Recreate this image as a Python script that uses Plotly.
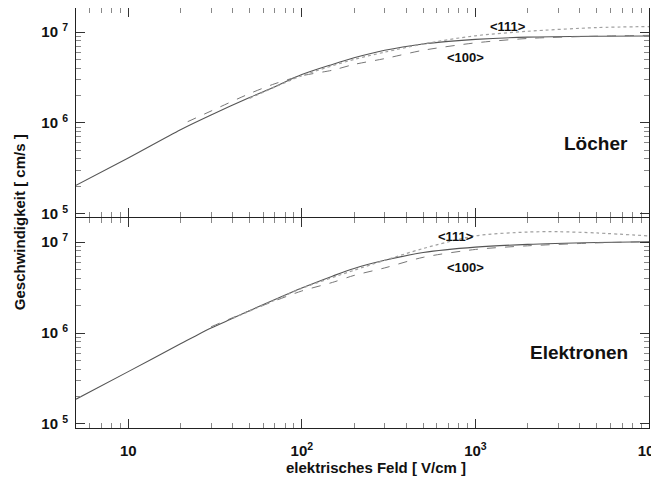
import numpy as np
import plotly.graph_objects as go
from plotly.subplots import make_subplots

# ---- data: drift velocity [cm/s] vs electric field [V/cm] ----
# holes (Löcher)
h_sol_E = [5, 10, 20, 30, 50, 70, 100, 150, 200, 300, 500, 700, 1000, 2000, 5000, 10000]
h_sol_v = [2.05e5, 4.1e5, 8.4e5, 1.22e6, 1.9e6, 2.5e6, 3.4e6, 4.4e6, 5.2e6, 6.3e6, 7.4e6, 7.9e6, 8.3e6, 8.8e6, 9.0e6, 9.05e6]
h_100_E = [22, 30, 50, 70, 100, 150, 200, 300, 500, 1000, 2000, 5000, 10000]
h_100_v = [1.03e6, 1.35e6, 2.1e6, 2.7e6, 3.3e6, 3.8e6, 4.4e6, 5.1e6, 6.3e6, 7.6e6, 8.5e6, 9.0e6, 9.2e6]
h_111_E = [50, 100, 200, 300, 500, 1000, 2000, 5000, 10000]
h_111_v = [1.86e6, 3.3e6, 5.0e6, 6.0e6, 7.4e6, 9.1e6, 1.02e7, 1.12e7, 1.15e7]
# electrons (Elektronen)
e_sol_E = [5, 10, 20, 30, 40, 50, 70, 100, 150, 200, 300, 500, 1000, 2000, 5000, 10000]
e_sol_v = [1.87e5, 3.76e5, 7.6e5, 1.135e6, 1.45e6, 1.76e6, 2.34e6, 3.13e6, 4.22e6, 5.13e6, 6.3e6, 7.67e6, 8.8e6, 9.44e6, 9.89e6, 1.01e7]
e_100_E = [30, 50, 70, 100, 150, 200, 300, 500, 1000, 2000, 5000, 10000]
e_100_v = [1.17e6, 1.76e6, 2.26e6, 2.9e6, 3.6e6, 4.3e6, 5.2e6, 6.8e6, 8.3e6, 9.1e6, 9.8e6, 1.01e7]
e_111_E = [40, 70, 100, 200, 300, 500, 1000, 2000, 3000, 5000, 10000]
e_111_v = [1.45e6, 2.3e6, 3.1e6, 4.9e6, 6.3e6, 8.5e6, 1.17e7, 1.29e7, 1.3e7, 1.26e7, 1.17e7]

x_tickvals = [10, 100, 1000, 10000]
x_ticktext = ["<b>10</b>", "<b>10<sup>2</sup></b>", "<b>10<sup>3</sup></b>", "<b>10<sup>4</sup></b>"]
y_tickvals = [1e5, 1e6, 1e7]
y_ticktext = ["<b>10 <sup>5</sup></b>", "<b>10 <sup>6</sup></b>", "<b>10 <sup>7</sup></b>"]

FONT = "Arial, Liberation Sans, sans-serif"

fig = make_subplots(rows=2, cols=1, shared_xaxes=True, vertical_spacing=0)

styles = dict(sol=dict(color="#555555", width=1.1, dash="solid"),
              d100=dict(color="#777777", width=1, dash="dash"),
              d111=dict(color="#a0a0a0", width=1.2, dash="dot"))

for row, sets in [(1, [(h_sol_E, h_sol_v, "sol"), (h_100_E, h_100_v, "d100"), (h_111_E, h_111_v, "d111")]),
                  (2, [(e_sol_E, e_sol_v, "sol"), (e_100_E, e_100_v, "d100"), (e_111_E, e_111_v, "d111")])]:
    for xs, ys, st in sets:
        fig.add_trace(go.Scatter(x=xs, y=ys, mode="lines", line=dict(shape="spline", smoothing=0.8, **styles[st]),
                                 showlegend=False, hoverinfo="skip"), row=row, col=1)

minor_x = [m * 10 ** k for k in range(0, 4) for m in range(2, 10) if 5 <= m * 10 ** k <= 10000]
minor_y = [m * 10 ** k for k in range(4, 8) for m in range(2, 10) if 9e4 <= m * 10 ** k <= 1.85e7]

xcommon = dict(type="log", range=[np.log10(5), 4], showline=True, linecolor="#222", linewidth=1,
               mirror="allticks", ticks="inside", ticklen=9, tickcolor="#333", tickwidth=1,
               tickmode="array", tickvals=x_tickvals, ticktext=x_ticktext, showgrid=False, zeroline=False,
               minor=dict(ticks="inside", ticklen=5, tickcolor="#888", tickmode="array", tickvals=minor_x, showgrid=False),
               tickfont=dict(family=FONT, size=15, color="#111"), ticklabeloverflow="allow")
ycommon = dict(type="log", showline=True, linecolor="#222", linewidth=1,
               mirror="allticks", ticks="inside", ticklen=9, tickcolor="#333", tickwidth=1,
               tickmode="array", tickvals=y_tickvals, ticktext=y_ticktext, showgrid=False, zeroline=False,
               minor=dict(ticks="inside", ticklen=5, tickcolor="#888", tickmode="array", tickvals=minor_y, showgrid=False),
               tickfont=dict(family=FONT, size=15, color="#111"), ticklabelstandoff=4)

PH = 420.0  # plot-area height in px
fig.update_xaxes(**xcommon)
fig.update_xaxes(showticklabels=False, row=1, col=1)
fig.update_xaxes(ticklabelstandoff=9, row=2, col=1)
fig.update_yaxes(**ycommon)
# panels: 1 px apart so that their outward-drawn border lines coincide
fig.update_yaxes(domain=[211 / PH, 1], range=[4.963, 7.265], row=1, col=1)
fig.update_yaxes(domain=[0, 210 / PH], range=[4.955, 7.265], row=2, col=1)

ann = []
def lab(text, x, y, xref, yref, size=13):
    ann.append(dict(text=text, x=x, y=y, xref=xref, yref=yref, showarrow=False,
                    font=dict(family=FONT, size=size, color="#111"), xanchor="center", yanchor="middle"))

lab("<b>&lt;111&gt;</b>", 3.186, 7.057, "x", "y")
lab("<b>&lt;100&gt;</b>", 2.945, 6.718, "x", "y")
lab("<b>&lt;111&gt;</b>", 2.889, 7.060, "x2", "y2")
lab("<b>&lt;100&gt;</b>", 2.945, 6.717, "x2", "y2")

ann.append(dict(text="<b>Löcher</b>", x=0.966, y=(428 - 143) / PH, xref="paper", yref="paper", showarrow=False,
                xanchor="right", yanchor="middle", font=dict(family=FONT, size=19, color="#111")))
ann.append(dict(text="<b>Elektronen</b>", x=0.966, y=(428 - 352) / PH, xref="paper", yref="paper", showarrow=False,
                xanchor="right", yanchor="middle", font=dict(family=FONT, size=19, color="#111")))
ann.append(dict(text="<b>elektrisches Feld [ V/cm ]</b>", x=(372 - 76) / 565, y=(428 - 467) / PH,
                xref="paper", yref="paper", showarrow=False, xanchor="center", yanchor="middle",
                font=dict(family=FONT, size=15, color="#111")))
ann.append(dict(text="<b>Geschwindigkeit [ cm/s ]</b>", x=(20 - 76) / 565, y=(428 - 222) / PH,
                xref="paper", yref="paper", showarrow=False, xanchor="center", yanchor="middle", textangle=-90,
                font=dict(family=FONT, size=15, color="#111")))

# the page body adds an 8px offset, so the figure is 8px smaller and margins shifted
fig.update_layout(width=651, height=476, margin=dict(l=68, r=10, t=0, b=56, autoexpand=False),
                  paper_bgcolor="white", plot_bgcolor="white", annotations=ann, showlegend=False)

fig.write_html("out.html")
